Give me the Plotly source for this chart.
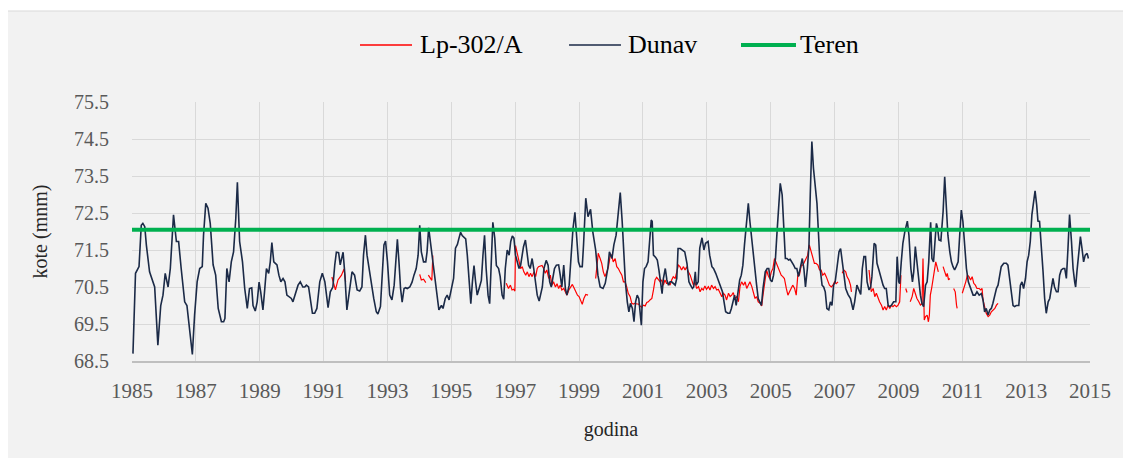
import plotly.graph_objects as go

# ---------------- data ----------------
dunav_year = [
    1985.03, 1985.11, 1985.22, 1985.29, 1985.34, 1985.40, 1985.45, 1985.55, 1985.71, 1985.81,
    1985.90, 1985.97, 1986.04, 1986.13, 1986.20, 1986.30, 1986.39, 1986.46, 1986.54, 1986.65,
    1986.72, 1986.81, 1986.89, 1986.96, 1987.04, 1987.12, 1987.20, 1987.24, 1987.31, 1987.38,
    1987.45, 1987.54, 1987.62, 1987.70, 1987.80, 1987.87, 1987.91, 1987.97, 1988.04, 1988.11,
    1988.18, 1988.25, 1988.30, 1988.37, 1988.46, 1988.53, 1988.61, 1988.68, 1988.75, 1988.79,
    1988.86, 1988.92, 1988.98, 1989.03, 1989.10, 1989.15, 1989.21, 1989.28, 1989.33, 1989.38,
    1989.44, 1989.49, 1989.54, 1989.60, 1989.66, 1989.73, 1989.79, 1989.85, 1989.92, 1989.99,
    1990.04, 1990.13, 1990.20, 1990.27, 1990.35, 1990.41, 1990.46, 1990.53, 1990.60, 1990.65,
    1990.72, 1990.79, 1990.88, 1990.96, 1991.04, 1991.14, 1991.21, 1991.29, 1991.35, 1991.40,
    1991.47, 1991.52, 1991.61, 1991.66, 1991.73, 1991.82, 1991.89, 1991.97, 1992.05, 1992.13,
    1992.20, 1992.25, 1992.31, 1992.36, 1992.42, 1992.49, 1992.57, 1992.65, 1992.70, 1992.78,
    1992.84, 1992.89, 1992.94, 1993.00, 1993.07, 1993.14, 1993.21, 1993.26, 1993.31, 1993.36,
    1993.41, 1993.46, 1993.52, 1993.57, 1993.62, 1993.70, 1993.77, 1993.83, 1993.90, 1993.96,
    1994.01, 1994.06, 1994.13, 1994.20, 1994.24, 1994.29, 1994.34, 1994.40, 1994.48, 1994.55,
    1994.61, 1994.69, 1994.74, 1994.81, 1994.87, 1994.93, 1995.00, 1995.07, 1995.13, 1995.19,
    1995.24, 1995.29, 1995.34, 1995.39, 1995.45, 1995.50, 1995.55, 1995.61, 1995.66, 1995.71,
    1995.76, 1995.81, 1995.87, 1995.94, 1995.99, 1996.04, 1996.09, 1996.15, 1996.20, 1996.25,
    1996.30, 1996.36, 1996.41, 1996.48, 1996.53, 1996.59, 1996.64, 1996.69, 1996.75, 1996.81,
    1996.86, 1996.91, 1996.96, 1997.01, 1997.07, 1997.12, 1997.17, 1997.22, 1997.26, 1997.32,
    1997.37, 1997.42, 1997.47, 1997.53, 1997.58, 1997.63, 1997.69, 1997.75, 1997.80, 1997.85,
    1997.90, 1997.97, 1998.03, 1998.08, 1998.13, 1998.18, 1998.23, 1998.29, 1998.36, 1998.41,
    1998.46, 1998.52, 1998.57, 1998.62, 1998.69, 1998.76, 1998.81, 1998.87, 1998.93, 1998.98,
    1999.03, 1999.10, 1999.14, 1999.21, 1999.28, 1999.36, 1999.43, 1999.52, 1999.59, 1999.66,
    1999.75, 1999.82, 1999.90, 1999.95, 2000.03, 2000.09, 2000.16, 2000.23, 2000.29, 2000.35,
    2000.40, 2000.45, 2000.51, 2000.56, 2000.61, 2000.67, 2000.72, 2000.77, 2000.82, 2000.87,
    2000.95, 2001.00, 2001.05, 2001.10, 2001.16, 2001.21, 2001.26, 2001.29, 2001.33, 2001.40,
    2001.45, 2001.50, 2001.55, 2001.60, 2001.64, 2001.70, 2001.75, 2001.80, 2001.85, 2001.90,
    2001.96, 2002.01, 2002.06, 2002.10, 2002.17, 2002.25, 2002.31, 2002.38, 2002.44, 2002.49,
    2002.55, 2002.59, 2002.64, 2002.67, 2002.73, 2002.78, 2002.85, 2002.91, 2002.96, 2003.04,
    2003.09, 2003.16, 2003.21, 2003.28, 2003.35, 2003.42, 2003.49, 2003.54, 2003.59, 2003.66,
    2003.72, 2003.77, 2003.82, 2003.87, 2003.92, 2003.97, 2004.03, 2004.08, 2004.13, 2004.18,
    2004.25, 2004.30, 2004.35, 2004.40, 2004.45, 2004.51, 2004.56, 2004.61, 2004.66, 2004.71,
    2004.76, 2004.83, 2004.89, 2004.94, 2004.99, 2005.04, 2005.09, 2005.15, 2005.20, 2005.25,
    2005.30, 2005.36, 2005.41, 2005.46, 2005.51, 2005.56, 2005.61, 2005.67, 2005.72, 2005.77,
    2005.82, 2005.87, 2005.90, 2005.96, 2005.99, 2006.04, 2006.09, 2006.15, 2006.20, 2006.24,
    2006.29, 2006.34, 2006.40, 2006.45, 2006.50, 2006.55, 2006.61, 2006.66, 2006.71, 2006.76,
    2006.82, 2006.87, 2006.92, 2006.97, 2007.02, 2007.07, 2007.14, 2007.19, 2007.24, 2007.29,
    2007.35, 2007.42, 2007.50, 2007.58, 2007.63, 2007.70, 2007.77, 2007.82, 2007.87, 2007.92,
    2007.97, 2008.02, 2008.08, 2008.13, 2008.17, 2008.24, 2008.29, 2008.33, 2008.39, 2008.47,
    2008.52, 2008.57, 2008.62, 2008.68, 2008.73, 2008.78, 2008.85, 2008.92, 2008.96, 2009.01,
    2009.04, 2009.09, 2009.14, 2009.20, 2009.25, 2009.28, 2009.33, 2009.39, 2009.44, 2009.48,
    2009.53, 2009.58, 2009.64, 2009.69, 2009.74, 2009.79, 2009.85, 2009.90, 2009.95, 2010.01,
    2010.05, 2010.10, 2010.16, 2010.19, 2010.23, 2010.27, 2010.33, 2010.40, 2010.45, 2010.50,
    2010.55, 2010.61, 2010.66, 2010.71, 2010.76, 2010.81, 2010.87, 2010.92, 2010.97, 2011.02,
    2011.08, 2011.13, 2011.19, 2011.25, 2011.34, 2011.40, 2011.46, 2011.53, 2011.60, 2011.65,
    2011.70, 2011.75, 2011.81, 2011.86, 2011.91, 2011.96, 2012.02, 2012.07, 2012.12, 2012.17,
    2012.22, 2012.30, 2012.38, 2012.43, 2012.48, 2012.54, 2012.59, 2012.64, 2012.69, 2012.77,
    2012.82, 2012.87, 2012.92, 2012.98, 2013.03, 2013.08, 2013.13, 2013.18, 2013.24, 2013.28,
    2013.33, 2013.37, 2013.42, 2013.48, 2013.53, 2013.58, 2013.63, 2013.69, 2013.74, 2013.79,
    2013.84, 2013.89, 2013.95, 2014.00, 2014.05, 2014.10, 2014.16, 2014.21, 2014.26, 2014.31,
    2014.36, 2014.42, 2014.47, 2014.52, 2014.55, 2014.59, 2014.65, 2014.70, 2014.75, 2014.80,
    2014.85, 2014.91, 2014.95,
]
dunav_level = [
    68.70, 70.87, 71.05, 72.17, 72.22, 72.13, 71.63, 70.91, 70.50, 68.93,
    70.00, 70.28, 70.87, 70.50, 71.00, 72.45, 71.73, 71.73, 71.00, 70.10,
    70.00, 69.38, 68.68, 69.74, 70.64, 71.00, 71.05, 71.90, 72.76, 72.63,
    72.22, 71.10, 70.82, 69.92, 69.56, 69.56, 69.65, 71.00, 70.64, 71.18,
    71.45, 72.35, 73.33, 71.73, 71.18, 70.46, 69.92, 70.46, 70.48, 70.00,
    69.85, 70.10, 70.63, 70.37, 69.88, 70.37, 71.00, 70.87, 71.18, 71.70,
    71.18, 71.14, 71.10, 70.82, 70.64, 70.73, 70.64, 70.28, 70.24, 70.19,
    70.10, 70.37, 70.55, 70.64, 70.50, 70.50, 70.55, 70.50, 70.10, 69.79,
    69.79, 69.92, 70.64, 70.87, 70.64, 69.94, 70.37, 70.50, 71.10, 71.44,
    71.43, 71.10, 71.44, 70.91, 69.88, 70.46, 70.91, 70.82, 70.42, 70.39,
    70.50, 71.36, 71.90, 71.36, 71.00, 70.55, 70.19, 69.83, 69.77, 69.97,
    70.82, 71.64, 71.74, 71.18, 70.28, 70.15, 70.55, 71.36, 71.79, 71.18,
    70.46, 70.09, 70.46, 70.48, 70.46, 70.50, 70.63, 70.82, 71.00, 71.36,
    72.17, 71.45, 71.18, 71.18, 71.45, 72.10, 71.73, 71.36, 70.73, 70.28,
    69.88, 70.00, 69.92, 70.19, 70.28, 70.15, 70.46, 70.73, 71.55, 71.65,
    71.82, 71.98, 71.89, 71.86, 71.80, 71.36, 70.68, 70.05, 70.64, 71.08,
    70.64, 70.28, 70.46, 70.68, 71.36, 71.90, 71.00, 70.28, 70.05, 71.08,
    72.25, 71.82, 71.08, 71.00, 70.78, 70.28, 70.17, 71.00, 71.50, 71.36,
    71.73, 71.88, 71.82, 71.36, 71.18, 71.00, 71.09, 71.36, 71.59, 71.77,
    71.45, 71.09, 71.00, 71.27, 71.00, 70.64, 70.28, 70.12, 70.28, 70.50,
    71.00, 71.22, 71.09, 70.64, 70.50, 70.78, 71.00, 71.09, 71.10, 70.82,
    70.50, 71.09, 70.46, 70.28, 70.55, 71.45, 72.08, 72.52, 71.82, 71.18,
    71.05, 71.05, 71.64, 72.90, 72.40, 72.60, 71.99, 71.50, 70.82, 70.50,
    70.46, 70.60, 71.00, 71.45, 71.27, 71.64, 71.90, 72.54, 73.05, 72.27,
    71.45, 70.64, 70.10, 69.83, 70.06, 69.92, 69.56, 70.10, 70.28, 70.19,
    69.47, 70.64, 71.00, 71.05, 71.18, 71.64, 72.31, 72.27, 71.36, 71.30,
    71.23, 70.96, 70.69, 70.32, 70.73, 71.00, 70.69, 70.55, 70.64, 70.64,
    70.59, 70.55, 70.73, 71.54, 71.54, 71.50, 71.45, 71.13, 70.64, 70.55,
    70.46, 70.50, 70.91, 70.55, 70.64, 71.55, 71.83, 71.50, 71.68, 71.73,
    71.36, 71.05, 71.00, 70.87, 70.69, 70.55, 70.37, 70.10, 69.83, 69.79,
    69.79, 69.92, 70.15, 70.28, 70.00, 70.28, 70.69, 70.82, 71.09, 71.64,
    72.36, 72.76, 72.27, 71.82, 71.45, 71.00, 70.55, 70.19, 70.10, 70.00,
    70.46, 70.91, 71.00, 71.00, 70.69, 70.64, 70.82, 71.27, 71.99, 72.72,
    73.30, 72.99, 72.09, 71.27, 71.27, 71.23, 71.25, 71.18, 71.09, 71.00,
    71.00, 70.78, 70.91, 71.23, 71.27, 71.00, 70.50, 71.00, 71.64, 72.99,
    74.43, 73.71, 73.08, 72.76, 71.90, 71.00, 70.55, 70.50, 70.37, 69.92,
    69.88, 70.10, 70.00, 70.55, 70.64, 71.00, 71.45, 71.54, 71.18, 70.82,
    70.46, 70.30, 70.19, 69.88, 70.10, 70.55, 70.37, 70.30, 71.00, 71.32,
    71.32, 70.64, 70.42, 70.50, 70.78, 71.68, 71.63, 71.14, 70.96, 70.69,
    70.55, 70.46, 70.46, 70.00, 69.97, 70.00, 70.10, 70.10, 71.32, 70.64,
    70.59, 71.18, 71.68, 71.99, 72.17, 72.28, 71.90, 71.00, 70.64, 70.91,
    71.59, 71.18, 70.64, 70.28, 70.05, 69.97, 70.55, 70.64, 71.18, 72.25,
    71.27, 71.18, 71.90, 72.22, 72.08, 71.77, 71.75, 72.54, 73.48, 72.81,
    71.90, 71.45, 71.18, 71.05, 70.96, 71.05, 71.18, 71.90, 72.58, 72.27,
    71.64, 71.00, 70.64, 70.50, 70.28, 70.28, 70.37, 70.28, 70.32, 70.15,
    69.83, 69.92, 69.74, 69.88, 69.92, 70.06, 70.28, 70.46, 70.55, 70.82,
    71.05, 71.14, 71.14, 71.09, 70.73, 70.28, 70.00, 69.97, 70.00, 70.00,
    70.55, 70.64, 70.46, 70.73, 71.18, 71.36, 71.73, 72.45, 72.90, 73.10,
    72.72, 72.28, 72.27, 71.64, 70.91, 70.19, 69.79, 70.10, 70.19, 70.46,
    70.73, 70.50, 70.37, 70.37, 70.82, 70.96, 71.00, 71.00, 70.73, 71.54,
    72.46, 71.73, 71.00, 70.64, 70.50, 70.91, 71.45, 71.86, 71.54, 71.18,
    71.36, 71.41, 71.27,
]

# Lp-302/A piezometer: None marks a gap in the record
lp_year = [
    1991.26, 1991.37, 1991.45, 1991.56, 1991.64, 1991.69, 1991.80,
    1994.01, 1994.06, 1994.13, 1994.20, 1994.24,
    1994.28, 1994.34, 1994.39, 1994.42, 1994.50,
    1996.72, 1996.79, 1996.85, 1996.90, 1996.95, 1996.99, 1997.01, 1997.07, 1997.12, 1997.17,
    1997.22, 1997.27, 1997.33, 1997.38, 1997.43, 1997.48, 1997.53, 1997.59, 1997.64, 1997.69,
    1997.73, 1997.84, 1997.89, 1997.94, 1997.99, 1998.05, 1998.10, 1998.15, 1998.20, 1998.26,
    1998.31, 1998.36, 1998.41, 1998.46, 1998.52, 1998.57, 1998.62, 1998.68, 1998.74, 1998.79,
    1998.84, 1998.89, 1998.95, 1999.00, 1999.05, 1999.10, 1999.15, 1999.21, 1999.28, 1999.40,
    1999.52, 1999.60, 1999.66, 1999.71, 1999.76, 1999.81, 1999.87, 1999.92, 1999.97, 2000.02,
    2000.07, 2000.13, 2000.18, 2000.23, 2000.28, 2000.34, 2000.39, 2000.44, 2000.49, 2000.54,
    2000.60, 2000.65, 2000.70, 2000.75, 2000.81, 2000.86, 2000.91, 2000.96, 2001.01, 2001.07,
    2001.12, 2001.17, 2001.22, 2001.28, 2001.33, 2001.38, 2001.43, 2001.48, 2001.54, 2001.59,
    2001.64, 2001.69, 2001.74, 2001.80, 2001.85, 2001.90, 2001.95, 2002.01, 2002.06, 2002.11,
    2002.16, 2002.21, 2002.27, 2002.32, 2002.37, 2002.42, 2002.48, 2002.53, 2002.58, 2002.63,
    2002.68, 2002.74, 2002.79, 2002.84, 2002.89, 2002.94, 2002.99, 2003.05, 2003.10, 2003.15,
    2003.21, 2003.26, 2003.31, 2003.36, 2003.41, 2003.47, 2003.52, 2003.57, 2003.62, 2003.68,
    2003.73, 2003.78, 2003.83, 2003.88, 2003.94, 2003.99, 2004.04, 2004.09, 2004.15, 2004.20,
    2004.25, 2004.30, 2004.35, 2004.41, 2004.46, 2004.51, 2004.56, 2004.61, 2004.67, 2004.72,
    2004.76, 2004.81, 2004.87, 2004.92, 2004.97, 2005.02, 2005.07, 2005.12, 2005.18, 2005.23,
    2005.28, 2005.33, 2005.38, 2005.43, 2005.49, 2005.54, 2005.59, 2005.64, 2005.69, 2005.75,
    2005.80, 2005.85, 2005.90, 2005.96, 2006.01, 2006.06, 2006.11, 2006.16, 2006.21, 2006.27,
    2006.32, 2006.37, 2006.42, 2006.48, 2006.53, 2006.58, 2006.63, 2006.69, 2006.74, 2006.79,
    2006.84, 2006.90, 2006.95, 2007.00, 2007.05, 2007.11, 2007.17,
    2007.24, 2007.29, 2007.35, 2007.39, 2007.45, 2007.50, 2007.53, 2007.60,
    2008.08, 2008.12, 2008.15, 2008.21, 2008.26, 2008.31, 2008.36, 2008.41, 2008.47, 2008.52,
    2008.57, 2008.62, 2008.68, 2008.73, 2008.78, 2008.83, 2008.88, 2008.94, 2008.99, 2009.04,
    2009.08, 2009.15,
    2009.23, 2009.27, 2009.32,
    2009.37, 2009.43, 2009.48, 2009.53, 2009.58, 2009.64, 2009.69, 2009.74, 2009.77, 2009.81,
    2009.85, 2009.90, 2009.94, 2009.97, 2010.00, 2010.04, 2010.09, 2010.14, 2010.17, 2010.21,
    2010.25, 2010.32,
    2010.40, 2010.45, 2010.50, 2010.53, 2010.57, 2010.61, 2010.67,
    2010.73, 2010.78, 2010.82, 2010.84, 2010.92,
    2011.00, 2011.05, 2011.11, 2011.16, 2011.21, 2011.26, 2011.31, 2011.36, 2011.41, 2011.46,
    2011.53, 2011.58, 2011.62, 2011.65, 2011.70, 2011.75, 2011.81, 2011.86, 2011.91, 2011.96,
    2012.02, 2012.07, 2012.12,
]
lp_level = [
    70.77, 70.42, 70.69, 70.82, 70.99, 70.64, None,
    70.84, 70.69, 70.71, 70.62, None,
    70.82, 70.72, 70.68, 71.35, None,
    70.60, 70.46, 70.55, 70.42, 70.44, 70.39, 71.62, 71.36, 71.14, 71.00,
    71.05, 70.91, 70.82, 70.91, 70.78, 70.87, 70.78, 70.91, 70.78, 71.00,
    71.05, 71.08, 71.00, 70.87, 70.96, 70.73, 70.82, 70.55, 70.64, 70.50,
    70.59, 70.46, 70.55, 70.42, 70.46, 70.37, 70.28, 70.42, 70.50, 70.57,
    70.48, 70.37, 70.28, 70.24, 70.12, 70.03, 70.19, 70.30, 70.28, None,
    70.73, 71.41, 71.27, 71.14, 70.91, 70.78, 70.91, 71.05, 71.32, 71.36,
    71.18, 71.27, 71.05, 71.00, 70.91, 70.82, 70.64, 70.64, 70.51, 70.33,
    70.24, 70.06, 70.04, 70.06, 70.04, 70.04, 69.99, 69.95, 70.01, 69.99,
    70.08, 70.10, 70.15, 70.19, 70.42, 70.69, 70.76, 70.71, 70.64, 70.69,
    70.55, 70.69, 70.60, 70.60, 70.55, 70.69, 70.78, 70.73, 70.91, 71.09,
    71.05, 70.96, 71.05, 70.96, 71.05, 70.91, 70.82, 70.69, 70.55, 70.64,
    70.46, 70.51, 70.37, 70.46, 70.42, 70.53, 70.44, 70.51, 70.42, 70.55,
    70.46, 70.51, 70.42, 70.44, 70.33, 70.24, 70.33, 70.28, 70.15, 70.33,
    70.24, 70.28, 70.35, 70.19, 70.24, 70.10, 70.51, 70.64, 70.55, 70.64,
    70.46, 70.55, 70.64, 70.51, 70.37, 70.19, 70.24, 70.10, 70.06, 69.99,
    70.28, 70.55, 70.96, 70.82, 70.73, 70.91, 71.00, 71.27, 71.14, 71.00,
    70.91, 70.82, 70.78, 70.73, 70.46, 70.28, 70.37, 70.46, 70.55, 70.46,
    70.28, 70.82, 70.82, 71.09, 71.09, 71.18, 71.27, 71.36, 71.64, 71.45,
    71.27, 71.14, 71.14, 71.09, 70.96, 70.96, 70.82, 70.87, 70.78, 70.64,
    70.55, 70.50, 70.55, 70.64, 70.59, 70.64, None,
    70.87, 70.96, 70.91, 70.78, 70.69, 70.55, 70.37, None,
    70.96, 70.50, 70.37, 70.46, 70.24, 70.33, 70.19, 70.10, 70.01, 69.88,
    69.97, 69.88, 70.01, 69.92, 70.01, 69.97, 70.01, 69.97, 70.01, 70.10,
    70.82, None,
    70.46, 70.35, None,
    70.10, 70.24, 70.46, 70.33, 70.19, 70.10, 70.01, 70.05, 71.27, 69.61,
    69.70, 69.74, 69.56, 69.74, 70.28, 70.46, 70.78, 70.96, 71.18, 71.05,
    70.91, None,
    71.05, 70.91, 70.78, 70.87, 70.69, 70.73, None,
    70.46, 70.37, 70.01, 69.92, None,
    70.33, 70.46, 70.64, 70.82, 70.78, 70.69, 70.78, 70.60, 70.55, 70.46,
    70.46, 70.42, 70.46, 70.15, 69.92, 69.79, 69.70, 69.74, 69.83, 69.88,
    69.92, 70.01, 70.06,
]

teren_year = [1985, 2015]
teren_level = [72.05, 72.05]

series_names = ["Lp-302/A", "Dunav", "Teren"]
series_colors = ["#ff0000", "#1b2a47", "#00b050"]
series_widths = [1.2, 1.6, 4]

x_ticks = list(range(1985, 2016, 2))
y_ticks = [68.5, 69.5, 70.5, 71.5, 72.5, 73.5, 74.5, 75.5]

# ---------------- figure ----------------
SERIF = "Liberation Serif, Times New Roman, serif"

fig = go.Figure()
for (xs, ys), name, col, w in zip(
        [(lp_year, lp_level), (dunav_year, dunav_level), (teren_year, teren_level)],
        series_names, series_colors, series_widths):
    fig.add_trace(go.Scatter(x=xs, y=ys, name=name, mode="lines", connectgaps=False,
                             showlegend=False, line=dict(color=col, width=w)))

# hand-drawn legend (long line samples, as in the original chart)
legend_shapes = []
legend_notes = []
sample_x = [(0.2380, 0.2923), (0.4562, 0.5104), (0.6357, 0.6931)]
text_x = [0.2985, 0.5157, 0.6952]
LEG_Y = 1.2201
for (x0, x1), tx, name, col, w in zip(sample_x, text_x, series_names, series_colors,
                                      series_widths):
    legend_shapes.append(dict(type="line", xref="paper", yref="paper", x0=x0, x1=x1,
                              y0=LEG_Y, y1=LEG_Y, line=dict(color=col, width=max(w, 1.5))))
    legend_notes.append(dict(text=name, xref="paper", yref="paper", x=tx, y=LEG_Y,
                             xanchor="left", yanchor="middle", showarrow=False,
                             font=dict(family=SERIF, size=26, color="#000000")))

frame_shapes = [
    dict(type="rect", xref="paper", yref="paper", x0=-0.3, x1=1.2, y0=1.3514, y1=1.5,
         fillcolor="white", line=dict(width=0), layer="below"),
    dict(type="line", xref="paper", yref="paper", x0=-0.3, x1=1.2, y0=1.3514, y1=1.3514,
         line=dict(color="#d9d9d9", width=1.2)),
]

fig.update_layout(
    width=1131, height=458, autosize=False,
    margin=dict(l=124, r=49, t=94, b=105),
    paper_bgcolor="#f2f2f2", plot_bgcolor="#f2f2f2",
    font=dict(family=SERIF, color="#595959"),
    showlegend=False,
    xaxis=dict(range=[1985, 2015], tickmode="array", tickvals=x_ticks,
               ticktext=[str(v) for v in x_ticks],
               showgrid=True, gridcolor="#d9d9d9", gridwidth=1.3,
               showline=True, linecolor="#bfbfbf", linewidth=1.5,
               zeroline=False, ticks="", ticklabelstandoff=10,
               tickfont=dict(family=SERIF, size=21, color="#595959"),
               title=dict(text="godina", font=dict(family=SERIF, size=20, color="#262626"),
                          standoff=20)),
    yaxis=dict(range=[68.5, 75.5], tickmode="array", tickvals=y_ticks,
               ticktext=[f"{v:.1f}" for v in y_ticks],
               showgrid=True, gridcolor="#d9d9d9", gridwidth=1.3,
               showline=False, zeroline=False, ticks="", ticklabelstandoff=22,
               tickfont=dict(family=SERIF, size=20, color="#595959"),
               title=dict(text="kote (mnm)", font=dict(family=SERIF, size=20, color="#262626"),
                          standoff=21)),
    shapes=frame_shapes + legend_shapes,
    annotations=legend_notes,
)

fig.write_html("out.html")
